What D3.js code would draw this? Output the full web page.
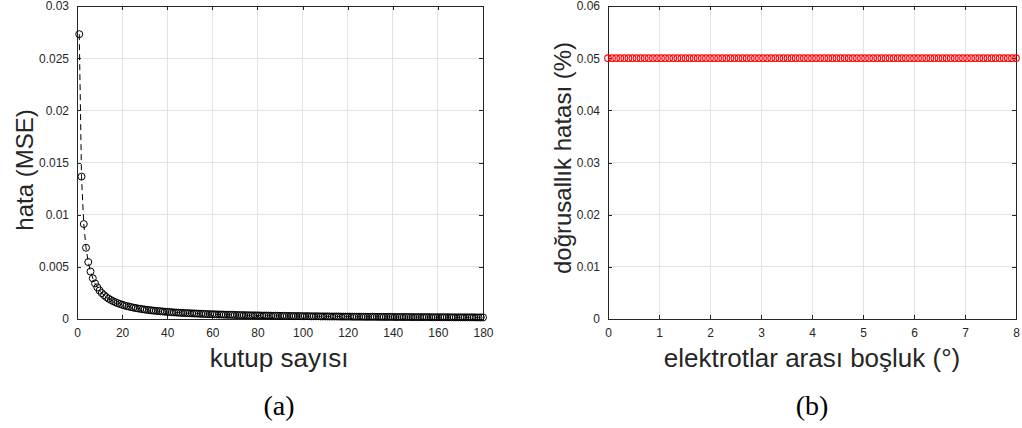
<!DOCTYPE html>
<html>
<head>
<meta charset="utf-8">
<script src="https://cdn.jsdelivr.net/npm/d3@7"></script>
<style>
  html, body { margin: 0; padding: 0; background: #ffffff; }
  svg { display: block; }
  .tick text { font-family: "Liberation Sans", Arial, Helvetica, sans-serif; font-size: 12px; fill: #262626; }
  .axis-title { font-family: "Liberation Sans", Arial, Helvetica, sans-serif; font-size: 26px; fill: #262626; }
  .axis-title.vertical { font-size: 24px; }
  .caption { font-family: "Liberation Serif", "Times New Roman", serif; font-size: 28px; fill: #000; }
</style>
</head>
<body>
<script>
// Panel (a): mean squared error versus number of poles
const poleCounts = d3.range(1, 181);
const mseValues = [
  0.02730, 0.01365, 0.00910, 0.00683, 0.00546, 0.00455, 0.00390, 0.00341, 0.00303, 0.00273,
  0.00248, 0.00228, 0.00210, 0.00195, 0.00182, 0.00171, 0.00161, 0.00152, 0.00144, 0.00137,
  0.00130, 0.00124, 0.00119, 0.00114, 0.00109, 0.00105, 0.00101, 0.00098, 0.00094, 0.00091,
  0.00088, 0.00085, 0.00083, 0.00080, 0.00078, 0.00076, 0.00074, 0.00072, 0.00070, 0.00068,
  0.00067, 0.00065, 0.00063, 0.00062, 0.00061, 0.00059, 0.00058, 0.00057, 0.00056, 0.00055,
  0.00054, 0.00053, 0.00052, 0.00051, 0.00050, 0.00049, 0.00048, 0.00047, 0.00046, 0.00046,
  0.00045, 0.00044, 0.00043, 0.00043, 0.00042, 0.00041, 0.00041, 0.00040, 0.00040, 0.00039,
  0.00038, 0.00038, 0.00037, 0.00037, 0.00036, 0.00036, 0.00035, 0.00035, 0.00035, 0.00034,
  0.00034, 0.00033, 0.00033, 0.00033, 0.00032, 0.00032, 0.00031, 0.00031, 0.00031, 0.00030,
  0.00030, 0.00030, 0.00029, 0.00029, 0.00029, 0.00028, 0.00028, 0.00028, 0.00028, 0.00027,
  0.00027, 0.00027, 0.00027, 0.00026, 0.00026, 0.00026, 0.00026, 0.00025, 0.00025, 0.00025,
  0.00025, 0.00024, 0.00024, 0.00024, 0.00024, 0.00024, 0.00023, 0.00023, 0.00023, 0.00023,
  0.00023, 0.00022, 0.00022, 0.00022, 0.00022, 0.00022, 0.00021, 0.00021, 0.00021, 0.00021,
  0.00021, 0.00021, 0.00021, 0.00020, 0.00020, 0.00020, 0.00020, 0.00020, 0.00020, 0.00020,
  0.00019, 0.00019, 0.00019, 0.00019, 0.00019, 0.00019, 0.00019, 0.00018, 0.00018, 0.00018,
  0.00018, 0.00018, 0.00018, 0.00018, 0.00018, 0.00018, 0.00017, 0.00017, 0.00017, 0.00017,
  0.00017, 0.00017, 0.00017, 0.00017, 0.00017, 0.00016, 0.00016, 0.00016, 0.00016, 0.00016,
  0.00016, 0.00016, 0.00016, 0.00016, 0.00016, 0.00016, 0.00015, 0.00015, 0.00015, 0.00015
];
const xTicksA = [0, 20, 40, 60, 80, 100, 120, 140, 160, 180];
const yTicksA = [0, 0.005, 0.01, 0.015, 0.02, 0.025, 0.03];

// Panel (b): linearity error versus electrode gap
const gapValues = d3.range(0, 101).map(i => +(i * 0.08).toFixed(2));
const linearityError = gapValues.map(() => 0.05);
const xTicksB = [0, 1, 2, 3, 4, 5, 6, 7, 8];
const yTicksB = [0, 0.01, 0.02, 0.03, 0.04, 0.05, 0.06];

const W = 1022, H = 428;
const svg = d3.select("body").append("svg").attr("width", W).attr("height", H);

const axisColor = "#262626";
const gridColor = "#e3e3e3";

function drawPanel(opts) {
  const { left, right, top, bottom, xDomain, yDomain, xTicks, yTicks, xFmt, yFmt } = opts;
  const x = d3.scaleLinear().domain(xDomain).range([left, right]);
  const y = d3.scaleLinear().domain(yDomain).range([bottom, top]);
  const g = svg.append("g");

  // grid
  g.append("g").selectAll("line").data(xTicks).join("line")
    .attr("x1", d => x(d)).attr("x2", d => x(d)).attr("y1", top).attr("y2", bottom)
    .attr("stroke", gridColor).attr("stroke-width", 1).attr("shape-rendering", "crispEdges");
  g.append("g").selectAll("line").data(yTicks).join("line")
    .attr("x1", left).attr("x2", right).attr("y1", d => y(d)).attr("y2", d => y(d))
    .attr("stroke", gridColor).attr("stroke-width", 1).attr("shape-rendering", "crispEdges");

  // box axes with inward ticks
  const xAxis = g.append("g").attr("transform", `translate(0,${bottom})`)
    .call(d3.axisBottom(x).tickValues(xTicks).tickFormat(xFmt).tickSizeInner(-4).tickSizeOuter(0).tickPadding(9));
  const yAxis = g.append("g").attr("transform", `translate(${left},0)`)
    .call(d3.axisLeft(y).tickValues(yTicks).tickFormat(yFmt).tickSizeInner(-4).tickSizeOuter(0).tickPadding(8));
  const xTop = g.append("g").attr("transform", `translate(0,${top})`)
    .call(d3.axisTop(x).tickValues(xTicks).tickFormat("").tickSizeInner(-4).tickSizeOuter(0));
  const yRight = g.append("g").attr("transform", `translate(${right},0)`)
    .call(d3.axisRight(y).tickValues(yTicks).tickFormat("").tickSizeInner(-4).tickSizeOuter(0));
  [xAxis, yAxis, xTop, yRight].forEach(a => {
    a.selectAll("path.domain").attr("stroke", axisColor).attr("stroke-width", 1).attr("shape-rendering", "crispEdges");
    a.selectAll(".tick line").attr("stroke", axisColor).attr("shape-rendering", "crispEdges");
  });
  return { g, x, y };
}

const fmtGeneral = d => d === 0 ? "0" : String(+d.toFixed(4));

// ---- panel (a)
const A = drawPanel({
  left: 77, right: 483, top: 6, bottom: 319,
  xDomain: [0, 180], yDomain: [0, 0.03],
  xTicks: xTicksA, yTicks: yTicksA,
  xFmt: d => String(d), yFmt: fmtGeneral
});
const mseData = poleCounts.map((n, i) => ({ x: n, y: mseValues[i] }));
A.g.append("path").datum(mseData)
  .attr("fill", "none").attr("stroke", "#000").attr("stroke-width", 1)
  .attr("stroke-dasharray", "6,4")
  .attr("d", d3.line().x(d => A.x(d.x)).y(d => A.y(d.y)));
A.g.append("g").selectAll("circle").data(mseData).join("circle")
  .attr("cx", d => A.x(d.x)).attr("cy", d => A.y(d.y)).attr("r", 3.5)
  .attr("fill", "none").attr("stroke", "#000").attr("stroke-width", 1);

svg.append("text").attr("class", "axis-title").attr("x", 279).attr("y", 367)
  .attr("text-anchor", "middle").text("kutup sayısı");
svg.append("text").attr("class", "axis-title vertical")
  .attr("transform", "translate(33,170) rotate(-90)")
  .attr("text-anchor", "middle").text("hata (MSE)");
svg.append("text").attr("class", "caption").attr("x", 279).attr("y", 415)
  .attr("text-anchor", "middle").text("(a)");

// ---- panel (b)
const B = drawPanel({
  left: 608, right: 1016, top: 6, bottom: 319,
  xDomain: [0, 8], yDomain: [0, 0.06],
  xTicks: xTicksB, yTicks: yTicksB,
  xFmt: d => String(d), yFmt: fmtGeneral
});
const linData = gapValues.map((v, i) => ({ x: v, y: linearityError[i] }));
B.g.append("g").selectAll("circle").data(linData).join("circle")
  .attr("cx", d => B.x(d.x)).attr("cy", d => B.y(d.y)).attr("r", 3.3)
  .attr("fill", "none").attr("stroke", "#ff0000").attr("stroke-width", 1.1);

svg.append("text").attr("class", "axis-title").attr("x", 812).attr("y", 367)
  .attr("text-anchor", "middle").text("elektrotlar arası boşluk (°)");
svg.append("text").attr("class", "axis-title vertical")
  .attr("transform", "translate(571,158) rotate(-90)")
  .attr("text-anchor", "middle").text("doğrusallık hatası (%)");
svg.append("text").attr("class", "caption").attr("x", 812).attr("y", 415)
  .attr("text-anchor", "middle").text("(b)");
</script>
</body>
</html>
